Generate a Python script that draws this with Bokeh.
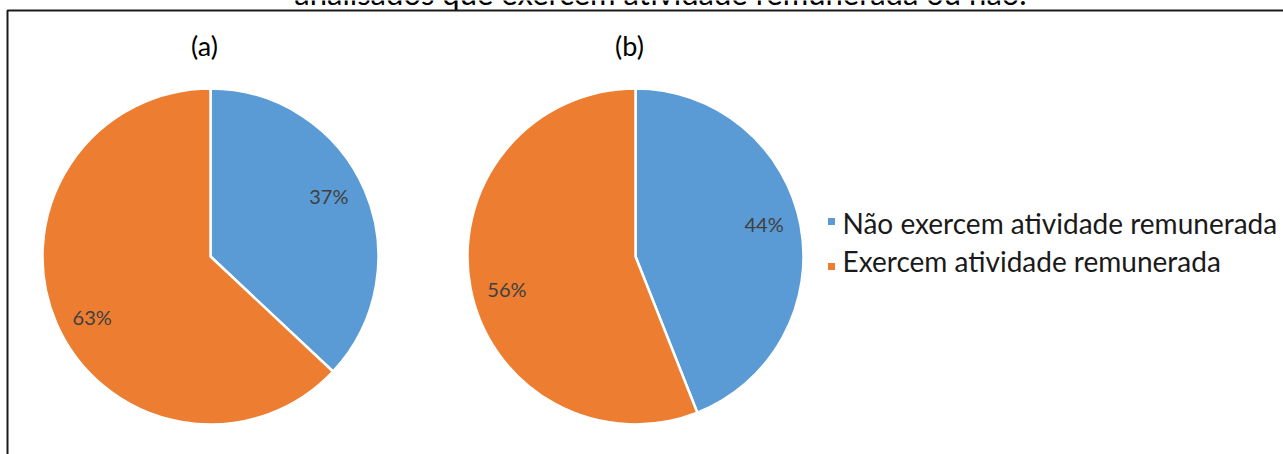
import math
from bokeh.plotting import figure
from bokeh.models import Range1d, ColumnDataSource, BoxAnnotation
from bokeh.core.properties import value
from bokeh.embed import file_html
from bokeh.resources import INLINE

# ---- data ----
title_text = "analisados que exercem atividade remunerada ou não."
panel_labels = ["(a)", "(b)"]
categories = ["Não exercem atividade remunerada", "Exercem atividade remunerada"]
pct_a = [37, 63]
pct_b = [44, 56]
colors = ["#5B9BD5", "#ED7D31"]

# ---- layout (pixels, from top-left) ----
W, H = 1283, 454
FONT = "Lato"
centers_px = [(210, 256), (635, 256)]
radius = 168
panel_label_y = 45
label_frac = 0.79
label_rot = math.radians(3.5)

def Y(ypx):
    return H - ypx

p = figure(width=W, height=H, x_range=Range1d(0, W), y_range=Range1d(0, H),
           min_border=0, toolbar_location=None, output_backend="svg")
p.axis.visible = False
p.grid.visible = False
p.outline_line_color = None
p.background_fill_color = "white"
p.border_fill_color = "white"

# frame of the (cropped) chart area
p.add_layout(BoxAnnotation(left=7, right=W + 20, top=Y(10), bottom=-20,
                           fill_alpha=0, line_color="#1a1a1a", line_alpha=1.0,
                           line_width=2))

# cropped title at top (only its lower part is visible, as in the source)
p.text(x=[660], y=[Y(-8)], text=[title_text], text_font=value(FONT),
       text_font_size="31px", text_color="#000000", text_align="center",
       text_baseline="alphabetic")

for (cx, cy), vals, plabel in zip(centers_px, [pct_a, pct_b], panel_labels):
    total = float(sum(vals))
    starts, ends, lx, ly, ltxt = [], [], [], [], []
    acc = 0.0
    for v in vals:
        frac0 = acc / total
        frac1 = (acc + v) / total
        # clockwise from 12 o'clock
        a_end = math.pi / 2 - 2 * math.pi * frac0
        a_start = math.pi / 2 - 2 * math.pi * frac1
        starts.append(a_start)
        ends.append(a_end)
        mid = (a_start + a_end) / 2 + label_rot
        lx.append(cx + label_frac * radius * math.cos(mid))
        ly.append(Y(cy) + label_frac * radius * math.sin(mid))
        ltxt.append(f"{v}%")
        acc += v
    src = ColumnDataSource(dict(x=[cx] * len(vals), y=[Y(cy)] * len(vals),
                                s=starts, e=ends, c=colors))
    p.wedge(x="x", y="y", radius=radius, start_angle="s", end_angle="e",
            fill_color="c", line_color="white", line_width=2.5, source=src)
    p.text(x=lx, y=ly, text=ltxt, text_font=value(FONT), text_font_size="20px",
           text_color="#404040", text_align="center", text_baseline="middle")
    p.text(x=[cx - 6], y=[Y(panel_label_y)], text=[plabel], text_font=value(FONT),
           text_font_size="27px", text_color="#000000", text_align="center",
           text_baseline="middle")

# legend
leg_x_marker = 831
leg_x_text = 842
leg_marker_y = [221, 266]
leg_text_y = [222, 260]
p.scatter(x=[leg_x_marker] * 2, y=[Y(v) for v in leg_marker_y], marker="square",
          size=7, fill_color=colors, line_color=None)
p.text(x=[leg_x_text] * 2, y=[Y(v) for v in leg_text_y], text=categories,
       text_font=value(FONT), text_font_size="28px", text_color="#1a1a1a",
       text_align="left", text_baseline="middle")

open("out.html", "w").write(file_html(p, INLINE))
